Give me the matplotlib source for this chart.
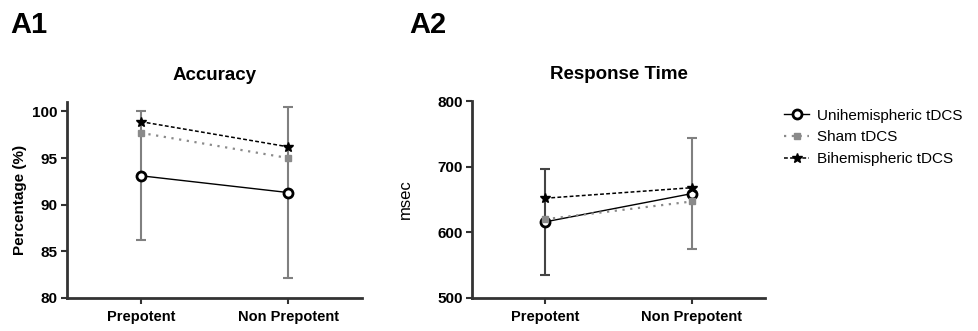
import numpy as np
import matplotlib
matplotlib.use("Agg")
import matplotlib.pyplot as plt

plt.rcParams['font.family'] = ['Liberation Sans', 'DejaVu Sans']

conditions = ["Prepotent", "Non Prepotent"]
groups = ["Unihemispheric tDCS", "Sham tDCS", "Bihemispheric tDCS"]

# accuracy (%)
acc_uni = [93.1, 91.3]
acc_sham = [97.7, 95.0]
acc_bi = [98.9, 96.2]
acc_uni_err = [6.9, 9.2]

# response time (msec)
rt_uni = [616, 659]
rt_sham = [620, 647]
rt_bi = [652, 668]
rt_uni_err = [81, 85]

styles = [
    dict(color='black', ls='-', lw=1.0, marker='o', ms=6.5, mfc='white', mec='black', mew=2.0),
    dict(color='#8a8a8a', ls=(0, (1, 2.5)), lw=1.6, marker='s', ms=5, mfc='#8a8a8a', mec='#8a8a8a'),
    dict(color='black', ls=(0, (2.5, 1.5)), lw=1.1, marker='*', ms=7, mfc='black', mec='black'),
]

fig = plt.figure(figsize=(9.79, 3.31), dpi=100)
ax1 = fig.add_axes([0.0684, 0.0997, 0.3014, 0.592])
ax2 = fig.add_axes([0.4821, 0.0997, 0.2993, 0.595])

x = np.arange(len(conditions))


def draw(ax, series, mean_err, err, ecolors):
    for i in range(len(x)):
        ax.errorbar(x[i], mean_err[i], yerr=err[i], fmt='none', ecolor=ecolors[i],
                    elinewidth=1.5, capsize=3.5, capthick=1.5, zorder=1)
    handles = []
    for vals, st, lab in zip(series, styles, groups):
        h, = ax.plot(x, vals, label=lab, zorder=3, **st)
        handles.append(h)
    ax.set_xlim(-0.5, 1.5)
    ax.set_xticks(x)
    ax.set_xticklabels(conditions, fontweight='bold', fontsize=10.5)
    for s in ['top', 'right']:
        ax.spines[s].set_visible(False)
    for s in ['left', 'bottom']:
        ax.spines[s].set_linewidth(2)
        ax.spines[s].set_color('#333333')
    ax.tick_params(axis='both', direction='out', length=4.5, width=1.5, color='#333333',
                   labelsize=11, pad=2)
    ax.tick_params(axis='x', labelsize=10.5, pad=4)
    for t in ax.get_yticklabels():
        t.set_fontweight('bold')
    return handles


handles = draw(ax1, [acc_uni, acc_sham, acc_bi], acc_uni, acc_uni_err, ['#808080', '#808080'])
ax1.set_ylim(80, 101)
ax1.set_yticks([80, 85, 90, 95, 100])
ax1.set_yticklabels(['80', '85', '90', '95', '100'], fontweight='bold')
ax1.set_ylabel("Percentage (%)", fontweight='bold', fontsize=11, labelpad=4)
ax1.set_title("Accuracy", fontweight='bold', fontsize=13.5, pad=16)

draw(ax2, [rt_uni, rt_sham, rt_bi], rt_uni, rt_uni_err, ['#444444', '#808080'])
ax2.set_ylim(500, 800)
ax2.set_yticks([500, 600, 700, 800])
ax2.set_yticklabels(['500', '600', '700', '800'], fontweight='bold')
ax2.set_ylabel("msec", fontsize=12, labelpad=18)
ax2.set_title("Response Time", fontweight='bold', fontsize=13.5, pad=16)

fig.text(0.010, 0.90, "A1", fontsize=21, fontweight='bold')
fig.text(0.418, 0.90, "A2", fontsize=21, fontweight='bold')

fig.legend(handles=handles, loc='upper left', bbox_to_anchor=(0.795, 0.690),
           frameon=False, fontsize=11, handlelength=1.6, handletextpad=0.55,
           labelspacing=0.5, borderaxespad=0)

fig.savefig("out.png", dpi=100)
